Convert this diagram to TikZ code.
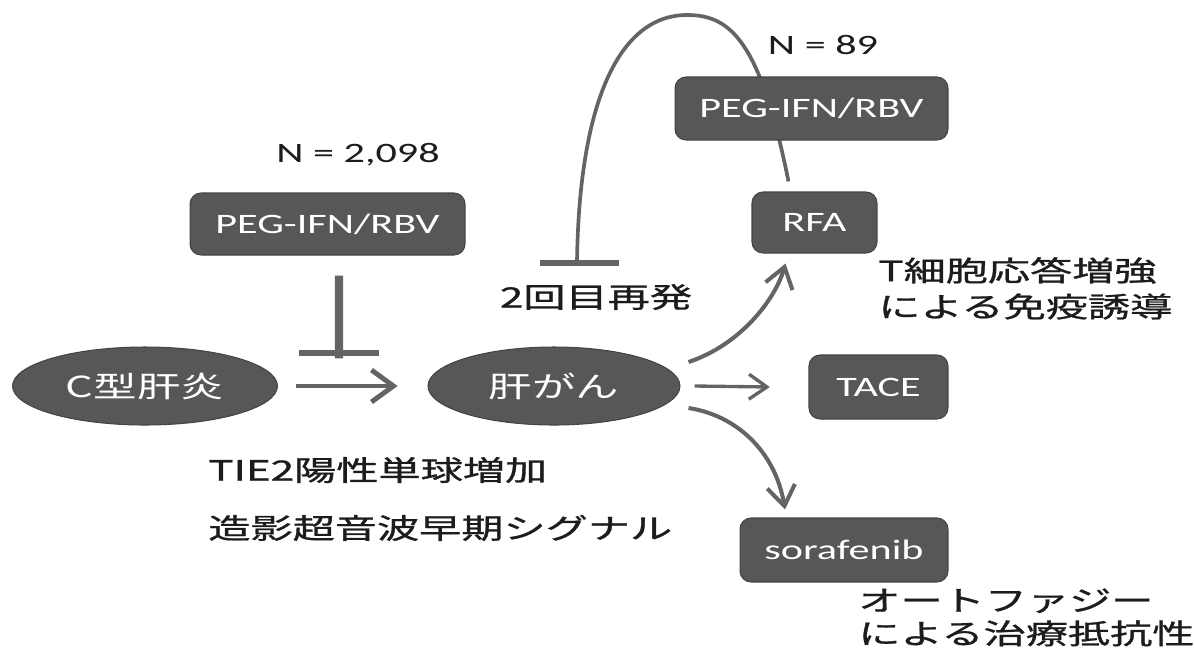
\documentclass[tikz,border=0pt]{standalone}
\usepackage{fontspec}
\setmainfont{Carlito}
\newfontfamily\cjk[FakeBold=0.8]{Noto Sans CJK JP}
\newfontfamily\cjkw{Noto Sans CJK JP}
\usetikzlibrary{arrows.meta,shapes.geometric}
\newcommand\sx[1]{\scalebox{1.5}[1]{#1}}
\definecolor{boxgray}{HTML}{575757}
\definecolor{edgegray}{HTML}{444444}
\definecolor{linegray}{HTML}{646464}
\definecolor{txt}{HTML}{1C1C1C}
\begin{document}
\begin{tikzpicture}[x=0.02cm,y=-0.02cm,
  box/.style={rectangle,rounded corners=0.22cm,fill=boxgray,draw=edgegray,line width=0.6pt,
    text=white,inner sep=0pt,font=\fontsize{16}{19}\selectfont},
  oval/.style={ellipse,fill=boxgray,draw=edgegray,line width=0.6pt,text=white,inner sep=0pt,
    font=\cjkw\fontsize{16.5}{19}\selectfont},
  lbl/.style={text=txt,inner sep=0pt,font=\fontsize{16}{19}\selectfont},
  jlbl/.style={text=txt,inner sep=0pt,font=\cjk\fontsize{16}{18}\selectfont},
  flow/.style={draw=linegray,line width=2.8pt,-{Straight Barb[length=0.44cm,width=0.64cm]}},
  thinflow/.style={draw=linegray,line width=1.9pt,-{Straight Barb[length=0.36cm,width=0.5cm]}},
  curveflow/.style={draw=linegray,line width=2.3pt,-{Straight Barb[length=0.4cm,width=0.56cm]}},
  inhib/.style={draw=linegray,line width=4.6pt},
  curveinhib/.style={draw=linegray,line width=2.1pt},
  barline/.style={draw=linegray,line width=3.2pt}
]
\path[use as bounding box] (0,0) rectangle (1194,654);

% left part
\node[lbl] (n1) at (358,155) {\sx{N = 2,098}};
\node[box,minimum width=5.5cm,minimum height=1.24cm] (peg1) at (327.5,224) {\sx{PEG-IFN/RBV}};
\node[oval,minimum width=5.3cm,minimum height=1.56cm] (hepc) at (145,386) {\sx{C型肝炎}};
\node[oval,minimum width=5.04cm,minimum height=1.56cm] (hcc) at (554,386) {\sx{肝がん}};
\coordinate (blk1) at (339,353);
\draw[inhib] ([shift={(11.5,20)}]peg1.south) -- ([yshift=-3]blk1);
\draw[barline] ([xshift=-23]blk1) -- ([xshift=23]blk1);
\draw[flow] ([xshift=10]hepc.east) -- ([xshift=-17]hcc.west);

% right part
\node[box,minimum width=2.5cm,minimum height=1.22cm] (rfa) at (814.5,222.5) {\sx{RFA}};
\node[box,minimum width=2.78cm,minimum height=1.28cm] (tace) at (878.5,387) {\sx{TACE}};
\node[box,minimum width=4.16cm,minimum height=1.28cm] (sor) at (844,550) {\sx{sorafenib}};
\coordinate (blk2) at (577,263);
\draw[curveinhib] ([shift={(-26,-10)}]rfa.north) .. controls (760,40) and (730,15) .. (687,15)
  .. controls (620,15) and (579,100) .. (blk2);
\draw[barline] ([xshift=-21]blk2) -- ([xshift=24]blk2);
\node[box,minimum width=5.46cm,minimum height=1.26cm] (peg2) at (811.5,108.5) {\sx{PEG-IFN/RBV}};
\node[lbl] (n2) at (823,45) {\sx{N = 89}};
\node[jlbl] (relapse) at (596,297) {\sx{2回目再発}};

\draw[curveflow] ([shift={(8,-24)}]hcc.east) .. controls (740,345) and (775,300) .. ([shift={(-29,10)}]rfa.south);
\draw[thinflow] ([xshift=8]hcc.east) -- ([xshift=-22]tace.west);
\draw[curveflow] ([shift={(8,22)}]hcc.east) .. controls (735,415) and (775,450) .. ([shift={(-59,-8)}]sor.north);

% annotations
\node[jlbl,anchor=west] (tie2) at (208,470) {\sx{TIE2陽性単球増加}};
\node[jlbl,anchor=west] (ceus) at (208,528) {\sx{造影超音波早期シグナル}};
\node[jlbl,anchor=west,font=\cjk\fontsize{16}{20.5}\selectfont] (tcell) at (878,292)
  {\sx{\begin{tabular}{@{}l@{}}T細胞応答増強\\による免疫誘導\end{tabular}}};
\node[jlbl,anchor=west] (auto) at (858,621)
  {\sx{\begin{tabular}{@{}l@{}}オートファジー\\による治療抵抗性\end{tabular}}};
\end{tikzpicture}
\end{document}
